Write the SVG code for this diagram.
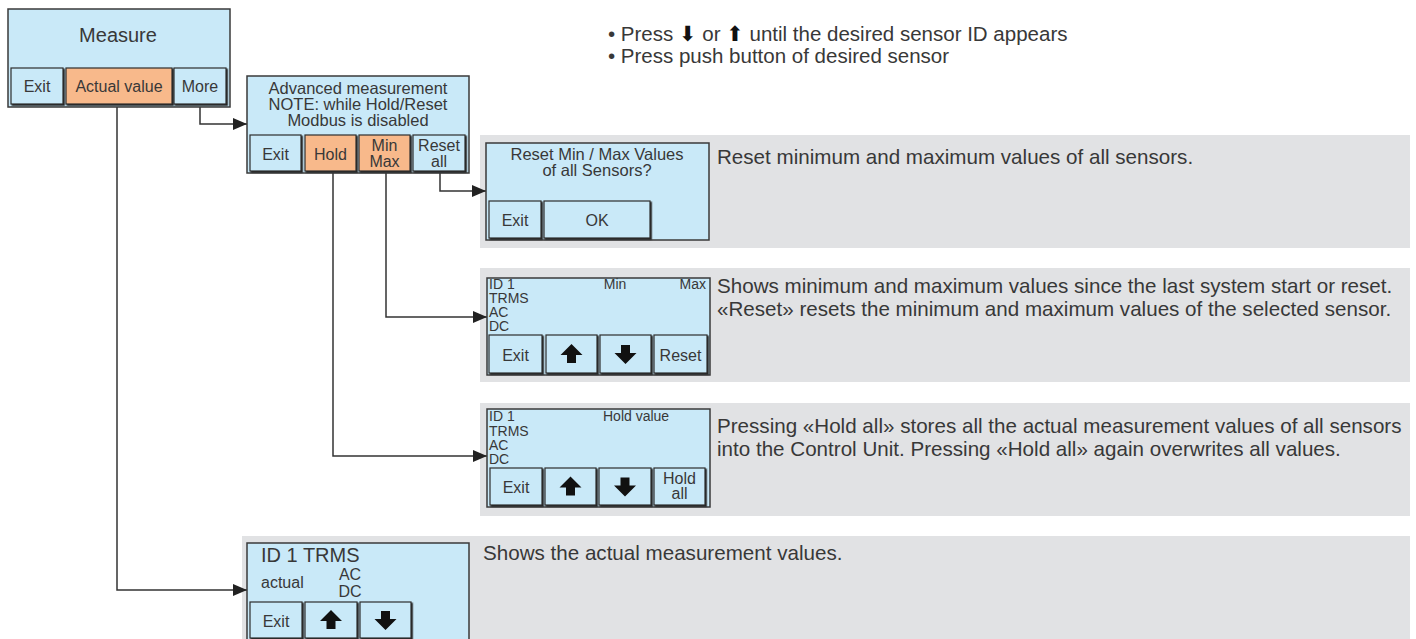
<svg xmlns="http://www.w3.org/2000/svg" xmlns:xlink="http://www.w3.org/1999/xlink" width="1416" height="639" viewBox="0 0 1416 639">
<style>
.bg{fill:#ffffff}
.panel{fill:#e1e2e4}
.box{fill:#c9e9f8;stroke:#3a3a3a;stroke-width:1.5}
.btn{fill:#c9e9f8;stroke:#2e2e2e;stroke-width:1.2;filter:url(#sh)}
.obtn{fill:#f8b98b;stroke:#2e2e2e;stroke-width:1.2;filter:url(#sh)}
.t{font-family:"Liberation Sans",Arial,sans-serif;fill:#383838}
.d{font-size:20.6px}
.s{font-size:14px}
.c{fill:none;stroke:#333333;stroke-width:1.5}
.ico{fill:#111111}
</style>
<defs>
<filter id="sh" x="-10%" y="-10%" width="130%" height="130%">
<feDropShadow dx="1.3" dy="1.3" stdDeviation="0" flood-color="#222222" flood-opacity="1"/>
</filter>
<marker id="ah" markerUnits="userSpaceOnUse" markerWidth="15" markerHeight="12" refX="14" refY="6" orient="auto">
<path d="M0,0 L14,6 L0,12 Z" fill="#222222"/>
</marker>
<path id="up" d="M0,-10 L11,1 L4.5,1 L4.5,9 L-4.5,9 L-4.5,1 L-11,1 Z"/>
<path id="down" d="M0,10 L11,-1 L4.5,-1 L4.5,-9 L-4.5,-9 L-4.5,-1 L-11,-1 Z"/>
</defs>
<rect class="bg" x="0" y="0" width="1416" height="639"/>

<g id="instructions">
<text class="t" x="608" y="41" font-size="20.5">• Press <tspan font-family="DejaVu Sans" fill="#111" font-size="21">⬇</tspan> or <tspan font-family="DejaVu Sans" fill="#111" font-size="21">⬆</tspan> until the desired sensor ID appears</text>
<text class="t" x="608" y="63" font-size="20.5">• Press push button of desired sensor</text>
</g>

<g id="panels">
<rect class="panel" x="480" y="135" width="930" height="113"/>
<rect class="panel" x="480" y="268" width="930" height="114"/>
<rect class="panel" x="480" y="403" width="930" height="113"/>
<rect class="panel" x="242" y="536" width="1168" height="103"/>
</g>

<g id="connectors">
<path class="c" d="M200,107 V124 H247" marker-end="url(#ah)"/>
<path class="c" d="M117,107 V590 H247" marker-end="url(#ah)"/>
<path class="c" d="M440,173 V191 H486" marker-end="url(#ah)"/>
<path class="c" d="M386,173 V317 H487" marker-end="url(#ah)"/>
<path class="c" d="M333,173 V456 H487" marker-end="url(#ah)"/>
</g>

<g id="measure">
<rect class="box" x="8" y="9" width="222" height="98"/>
<text class="t" x="118" y="42" font-size="20" text-anchor="middle">Measure</text>
<rect class="btn" x="11" y="68" width="52" height="36"/>
<text class="t" x="37" y="92" font-size="16" text-anchor="middle">Exit</text>
<rect class="obtn" x="66" y="68" width="106" height="36"/>
<text class="t" x="119" y="92" font-size="16" text-anchor="middle">Actual value</text>
<rect class="btn" x="174" y="68" width="52" height="36"/>
<text class="t" x="200" y="92" font-size="16" text-anchor="middle">More</text>
</g>

<g id="advanced">
<rect class="box" x="247" y="76" width="222" height="97"/>
<text class="t" x="358" y="94" font-size="16.5" text-anchor="middle">Advanced measurement</text>
<text class="t" x="358" y="110" font-size="16.5" text-anchor="middle">NOTE: while Hold/Reset</text>
<text class="t" x="358" y="126" font-size="16.5" text-anchor="middle">Modbus is disabled</text>
<rect class="btn" x="250" y="135" width="51" height="36"/>
<text class="t" x="275.5" y="160" font-size="16" text-anchor="middle">Exit</text>
<rect class="obtn" x="305" y="135" width="51" height="36"/>
<text class="t" x="330.5" y="160" font-size="16" text-anchor="middle">Hold</text>
<rect class="obtn" x="359" y="135" width="51" height="36"/>
<text class="t" x="384.5" y="151" font-size="16" text-anchor="middle">Min</text>
<text class="t" x="384.5" y="167" font-size="16" text-anchor="middle">Max</text>
<rect class="btn" x="413" y="135" width="52" height="36"/>
<text class="t" x="439" y="151" font-size="16" text-anchor="middle">Reset</text>
<text class="t" x="439" y="167" font-size="16" text-anchor="middle">all</text>
</g>

<g id="reset-minmax">
<rect class="box" x="486" y="143" width="223" height="97"/>
<text class="t" x="597" y="160" font-size="16.5" text-anchor="middle">Reset Min / Max Values</text>
<text class="t" x="597" y="176" font-size="16.5" text-anchor="middle">of all Sensors?</text>
<rect class="btn" x="489" y="201" width="52" height="37"/>
<text class="t" x="515" y="226" font-size="16" text-anchor="middle">Exit</text>
<rect class="btn" x="544" y="201" width="106" height="37"/>
<text class="t" x="597" y="226" font-size="16" text-anchor="middle">OK</text>
<text class="t d" x="717" y="164">Reset minimum and maximum values of all sensors.</text>
</g>

<g id="minmax">
<rect class="box" x="487" y="278" width="223" height="97"/>
<text class="t s" x="489" y="289">ID 1</text>
<text class="t s" x="489" y="303">TRMS</text>
<text class="t s" x="489" y="317">AC</text>
<text class="t s" x="489" y="331">DC</text>
<text class="t s" x="615" y="289" text-anchor="middle">Min</text>
<text class="t s" x="706" y="289" text-anchor="end">Max</text>
<rect class="btn" x="489" y="335" width="53" height="38"/>
<text class="t" x="515.5" y="361" font-size="16" text-anchor="middle">Exit</text>
<rect class="btn" x="546" y="335" width="51" height="38"/>
<use href="#up" x="571.5" y="354" class="ico"/>
<rect class="btn" x="600" y="335" width="51" height="38"/>
<use href="#down" x="625.5" y="354" class="ico"/>
<rect class="btn" x="654" y="335" width="53" height="38"/>
<text class="t" x="680.5" y="361" font-size="16" text-anchor="middle">Reset</text>
<text class="t d" x="717" y="293">Shows minimum and maximum values since the last system start or reset.</text>
<text class="t d" x="717" y="316">«Reset» resets the minimum and maximum values of the selected sensor.</text>
</g>

<g id="hold">
<rect class="box" x="487" y="409" width="223" height="98"/>
<text class="t s" x="489" y="421">ID 1</text>
<text class="t s" x="489" y="436">TRMS</text>
<text class="t s" x="489" y="450">AC</text>
<text class="t s" x="489" y="464">DC</text>
<text class="t s" x="603" y="421">Hold value</text>
<rect class="btn" x="490" y="468" width="52" height="37"/>
<text class="t" x="516" y="493" font-size="16" text-anchor="middle">Exit</text>
<rect class="btn" x="545" y="468" width="51" height="37"/>
<use href="#up" x="570.5" y="486.5" class="ico"/>
<rect class="btn" x="599" y="468" width="52" height="37"/>
<use href="#down" x="625" y="486.5" class="ico"/>
<rect class="btn" x="654" y="468" width="51" height="37"/>
<text class="t" x="679.5" y="484" font-size="16" text-anchor="middle">Hold</text>
<text class="t" x="679.5" y="499" font-size="16" text-anchor="middle">all</text>
<text class="t d" x="717" y="433">Pressing «Hold all» stores all the actual measurement values of all sensors</text>
<text class="t d" x="717" y="456">into the Control Unit. Pressing «Hold all» again overwrites all values.</text>
</g>

<g id="actual">
<rect class="box" x="247" y="543" width="222" height="102"/>
<text class="t" x="261" y="562" font-size="20">ID 1 TRMS</text>
<text class="t" x="261" y="588" font-size="16">actual</text>
<text class="t" x="350" y="580" font-size="16" text-anchor="middle">AC</text>
<text class="t" x="350" y="597" font-size="16" text-anchor="middle">DC</text>
<rect class="btn" x="250" y="602" width="52" height="36"/>
<text class="t" x="276" y="627" font-size="16" text-anchor="middle">Exit</text>
<rect class="btn" x="305" y="602" width="52" height="36"/>
<use href="#up" x="331" y="620" class="ico"/>
<rect class="btn" x="360" y="602" width="51" height="36"/>
<use href="#down" x="385.5" y="620" class="ico"/>
<text class="t d" x="483" y="560">Shows the actual measurement values.</text>
</g>
</svg>
